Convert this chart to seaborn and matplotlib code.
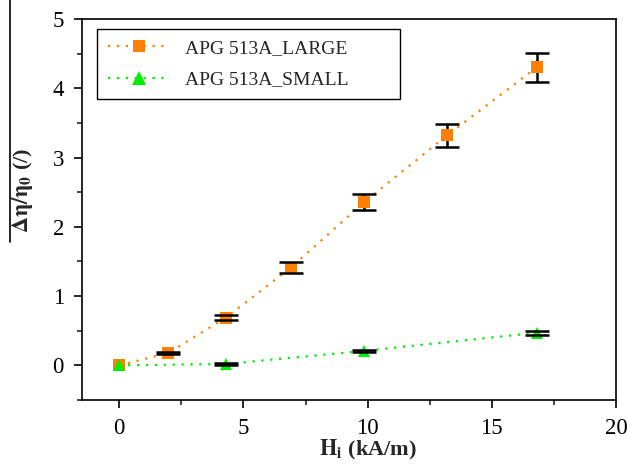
import matplotlib
matplotlib.use("Agg")
import matplotlib.pyplot as plt
from matplotlib.lines import Line2D
from matplotlib.ticker import MultipleLocator
import numpy as np
import pandas as pd
import seaborn as sns

# 数据
h_large = [0, 1.98, 4.3, 6.91, 9.87, 13.2, 16.8]
eta_large = [0, 0.18, 0.69, 1.41, 2.36, 3.32, 4.30]
err_large = [0, 0.015, 0.035, 0.075, 0.12, 0.17, 0.21]

h_small = [0, 4.3, 9.87, 16.8]
eta_small = [0, 0.02, 0.21, 0.47]
err_small = [0, 0.01, 0.01, 0.03]

labels = ["APG 513A_LARGE", "APG 513A_SMALL"]
colors = ["#FF8000", "#00EE00"]

df = pd.concat([
    pd.DataFrame({"H": h_large, "eta": eta_large, "err": err_large, "sample": labels[0]}),
    pd.DataFrame({"H": h_small, "eta": eta_small, "err": err_small, "sample": labels[1]}),
])

sns.set_style("ticks")
plt.rcParams['font.family'] = ['Liberation Serif', 'DejaVu Serif']
plt.rcParams['mathtext.fontset'] = 'stix'

fig = plt.figure(figsize=(6.27, 4.72), dpi=100)
ax = fig.add_axes([82 / 627, 72 / 472, 534 / 627, 381 / 472])

sns.lineplot(data=df, x="H", y="eta", hue="sample", style="sample",
             palette=colors, markers=["s", "^"], dashes=[(1, 3), (1, 3)],
             markersize=8.5, markeredgewidth=0, linewidth=1.6, ax=ax, zorder=3)

# 误差棒 (误差为0的点不画): 竖线在点下面, 横帽在点上面
d = df[df["err"] > 0]
eb = ax.errorbar(d["H"], d["eta"], yerr=d["err"], fmt="none", ecolor="black",
                 elinewidth=1.8, capsize=8.5, capthick=1.8, zorder=2)
for cap in eb[1]:
    cap.set_zorder(5)

ax.set_xlim(-1.5, 20)
ax.set_ylim(-0.5, 5)
ax.xaxis.set_major_locator(MultipleLocator(5))
ax.xaxis.set_minor_locator(MultipleLocator(2.5))
ax.yaxis.set_major_locator(MultipleLocator(1))
ax.yaxis.set_minor_locator(MultipleLocator(0.5))
ax.tick_params(which="major", direction="out", length=6, width=1.2, labelsize=16.5, pad=7,
               colors="black")
ax.tick_params(which="minor", direction="out", length=3.5, width=1.2)
for sp in ax.spines.values():
    sp.set_linewidth(1.2)
    sp.set_color("black")

ax.set_xlabel(r"$\mathbf{H_i}$ (kA/m)", fontsize=16, fontweight="bold")
ax.set_ylabel(r"$\mathbf{\Delta\eta/\eta_0}$ (/)", fontsize=16, fontweight="bold")
ax.xaxis.set_label_coords(0.535, -0.10)
ax.yaxis.set_label_coords(-0.088, 0.55)

handles = [Line2D([], [], color=colors[0], linestyle=(0, (1, 3)), linewidth=1.6,
                  marker="s", markersize=8, markeredgewidth=0),
           Line2D([], [], color=colors[1], linestyle=(0, (1, 3)), linewidth=1.6,
                  marker="^", markersize=10, markeredgewidth=0)]
leg = ax.legend(handles, labels, loc="upper left", bbox_to_anchor=(0.028, 0.5, 0.567, 0.474),
                mode="expand", fontsize=14, frameon=True, fancybox=False, edgecolor="black",
                framealpha=1, handlelength=3.2, handletextpad=0.8, labelspacing=0.7,
                borderpad=0.55, borderaxespad=0)
leg.get_frame().set_linewidth(1.0)

# 左侧的竖线
fig.add_artist(Line2D([10 / 627, 10 / 627], [1, 1 - 242 / 472], color="black",
                      linewidth=1.2, transform=fig.transFigure))

plt.savefig("out.png", dpi=100)
